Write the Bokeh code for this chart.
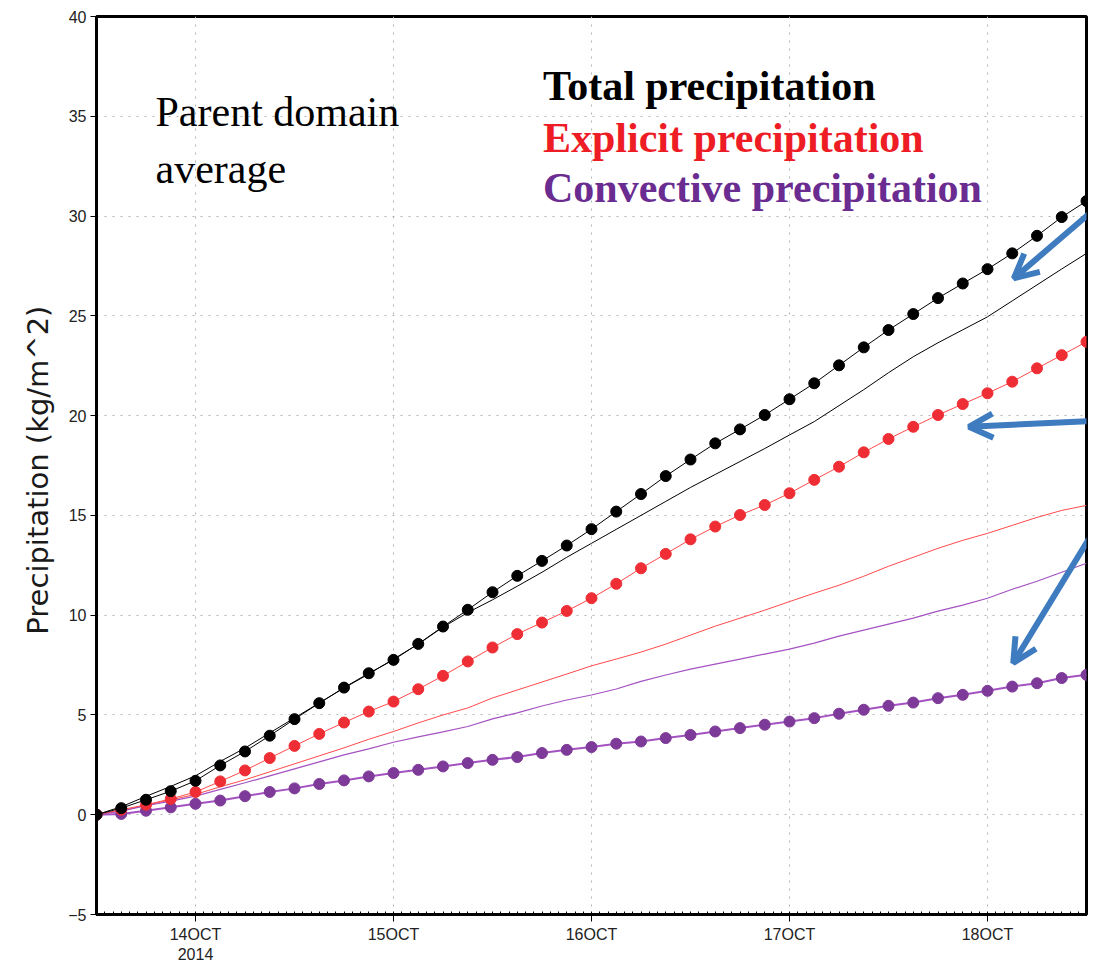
import numpy as np
from bokeh.plotting import figure
from bokeh.models import FixedTicker, Label, Arrow, OpenHead, Range1d
from bokeh.embed import file_html
from bokeh.resources import INLINE

# Output times every 3 hours, as day of October 2014 (13 Oct 12Z to 18 Oct 12Z)
day = 13.5 + 0.125 * np.arange(41)

# Accumulated precipitation (kg/m^2), run shown with markers
total_dots = [0, 0.33, 0.75, 1.18, 1.7, 2.47, 3.17, 3.96, 4.79, 5.59, 6.37, 7.09, 7.76,
              8.56, 9.43, 10.27, 11.15, 11.97, 12.72, 13.49, 14.31, 15.19, 16.07, 16.97,
              17.8, 18.61, 19.31, 20.03, 20.82, 21.62, 22.52, 23.42, 24.29, 25.09, 25.89,
              26.62, 27.34, 28.13, 29.01, 29.95, 30.75]
explicit_dots = [0, 0.25, 0.5, 0.79, 1.14, 1.67, 2.22, 2.84, 3.45, 4.05, 4.62, 5.17, 5.67,
                 6.29, 6.96, 7.68, 8.38, 9.05, 9.63, 10.21, 10.85, 11.57, 12.35, 13.07,
                 13.8, 14.44, 15.02, 15.52, 16.11, 16.78, 17.44, 18.16, 18.83, 19.44, 20.03,
                 20.58, 21.12, 21.7, 22.37, 23.03, 23.7]
convective_dots = [0, 0.04, 0.2, 0.37, 0.55, 0.71, 0.93, 1.14, 1.32, 1.54, 1.72, 1.92, 2.09,
                   2.25, 2.42, 2.59, 2.75, 2.89, 3.09, 3.25, 3.39, 3.56, 3.67, 3.84, 4.0,
                   4.17, 4.34, 4.51, 4.67, 4.84, 5.06, 5.26, 5.46, 5.62, 5.84, 6.01, 6.21,
                   6.42, 6.59, 6.85, 7.01]

# Accumulated precipitation (kg/m^2), run shown as plain lines
total_line = [0, 0.4, 0.92, 1.42, 1.95, 2.67, 3.34, 4.1, 4.85, 5.6, 6.35, 7.05, 7.8, 8.55,
              9.4, 10.13, 10.77, 11.45, 12.15, 12.9, 13.6, 14.3, 15.0, 15.7, 16.4, 17.05,
              17.7, 18.35, 19.03, 19.7, 20.5, 21.3, 22.15, 22.95, 23.65, 24.3, 24.95, 25.75,
              26.55, 27.35, 28.13]
explicit_line = [0, 0.2, 0.47, 0.74, 1.02, 1.4, 1.75, 2.15, 2.55, 2.95, 3.35, 3.78, 4.17,
                 4.6, 5.0, 5.35, 5.85, 6.25, 6.65, 7.05, 7.46, 7.8, 8.15, 8.55, 9.0, 9.45,
                 9.85, 10.25, 10.68, 11.1, 11.5, 11.95, 12.45, 12.9, 13.35, 13.75, 14.1,
                 14.5, 14.9, 15.25, 15.5]
convective_line = [0, 0.18, 0.45, 0.68, 0.93, 1.27, 1.6, 1.95, 2.3, 2.65, 3.0, 3.3, 3.63,
                   3.9, 4.15, 4.42, 4.8, 5.1, 5.45, 5.75, 6.0, 6.3, 6.68, 7.0, 7.3, 7.55,
                   7.8, 8.05, 8.3, 8.6, 8.95, 9.25, 9.55, 9.85, 10.2, 10.5, 10.85, 11.3,
                   11.7, 12.15, 12.6]

x_ticks = [14, 15, 16, 17, 18]
x_tick_labels = ["14OCT\n2014", "15OCT", "16OCT", "17OCT", "18OCT"]
y_ticks = [-5, 0, 5, 10, 15, 20, 25, 30, 35, 40]

BLACK = "#000000"
RED_DOT = "#EE2E34"
RED_LINE = "#FF4A4A"
PURPLE_DOT = "#7E3A98"
PURPLE_LINE = "#A452C2"
ARROW_BLUE = "#3E7BBF"

p = figure(width=1095, height=966, output_backend="svg", toolbar_location=None,
           x_range=Range1d(13.5, 18.5), y_range=Range1d(-5, 40),
           min_border_left=96, min_border_right=9, min_border_top=16, min_border_bottom=52)
p.background_fill_color = "white"
p.border_fill_color = "white"
p.outline_line_color = "black"
p.outline_line_width = 3

# axes
hourly = list(13.5 + np.arange(1, 120) / 24.0)
p.xaxis.ticker = FixedTicker(ticks=x_ticks, minor_ticks=hourly)
p.xaxis.major_label_overrides = {k: v for k, v in zip(x_ticks, x_tick_labels)}
p.yaxis.ticker = FixedTicker(ticks=y_ticks, minor_ticks=[])
p.yaxis.major_label_overrides = {-5: "\u22125"}

for ax in (p.xaxis, p.yaxis):
    ax.axis_line_color = "black"
    ax.axis_line_width = 3
    ax.major_tick_line_color = "black"
    ax.major_tick_line_width = 1
    ax.major_tick_in = 0
    ax.major_label_text_font = "Liberation Sans"
    ax.major_label_text_font_size = "16px"
    ax.major_label_text_color = "#222222"
p.xaxis.major_tick_out = 7
p.xaxis.minor_tick_in = 3
p.xaxis.minor_tick_out = 0
p.xaxis.minor_tick_line_color = "black"
p.xaxis.major_label_standoff = 4
p.yaxis.major_tick_out = 6
p.yaxis.major_label_standoff = 4

p.yaxis.axis_label = "Precipitation  (kg/m^2)"
p.yaxis.axis_label_text_font = "DejaVu Sans"
p.yaxis.axis_label_text_font_style = "normal"
p.yaxis.axis_label_text_font_size = "29px"
p.yaxis.axis_label_text_color = "#1a1a1a"
p.yaxis.axis_label_standoff = 10

for g in (p.xgrid, p.ygrid):
    g.grid_line_color = "#B4B4B4"
    g.grid_line_dash = "2 6"
    g.grid_line_width = 1

# plain-line run
p.line(day, total_line, line_color=BLACK, line_width=1)
p.line(day, explicit_line, line_color=RED_LINE, line_width=1)
p.line(day, convective_line, line_color=PURPLE_LINE, line_width=1.2)

# marker run
p.line(day, convective_dots, line_color=PURPLE_LINE, line_width=2)
p.scatter(day, convective_dots, size=11, marker="circle", fill_color=PURPLE_DOT, line_color=PURPLE_DOT)
p.line(day, explicit_dots, line_color=RED_LINE, line_width=1)
p.scatter(day, explicit_dots, size=11, marker="circle", fill_color=RED_DOT, line_color=RED_DOT)
p.line(day, total_dots, line_color=BLACK, line_width=1)
p.scatter(day, total_dots, size=11, marker="circle", fill_color=BLACK, line_color=BLACK)

# titles and legend text
serif = "Liberation Serif"
p.add_layout(Label(x=13.798, y=35.22, text="Parent domain", text_font=serif,
                   text_font_size="42px", text_color="black", text_baseline="alphabetic"))
p.add_layout(Label(x=13.798, y=32.35, text="average", text_font=serif,
                   text_font_size="42px", text_color="black", text_baseline="alphabetic"))
legend_rows = [("Total precipitation", "#000000", 36.52),
               ("Explicit precipitation", "#EE1C25", 33.93),
               ("Convective precipitation", "#6A2C91", 31.43)]
for txt, col, yy in legend_rows:
    p.add_layout(Label(x=15.755, y=yy, text=txt, text_font=serif, text_font_style="bold",
                       text_font_size="42px", text_color=col, text_baseline="alphabetic"))

# pointer arrows (start x beyond the right edge of the frame)
arrows = [((18.545, 30.38), (18.133, 26.88)),
          ((18.545, 19.74), (17.906, 19.44)),
          ((18.545, 14.36), (18.130, 7.60))]
for (xs, ys), (xe, ye) in arrows:
    p.add_layout(Arrow(x_start=xs, y_start=ys, x_end=xe, y_end=ye,
                       line_color=ARROW_BLUE, line_width=6,
                       end=OpenHead(size=24, line_color=ARROW_BLUE, line_width=6)))

open("out.html", "w").write(file_html(p, INLINE))
